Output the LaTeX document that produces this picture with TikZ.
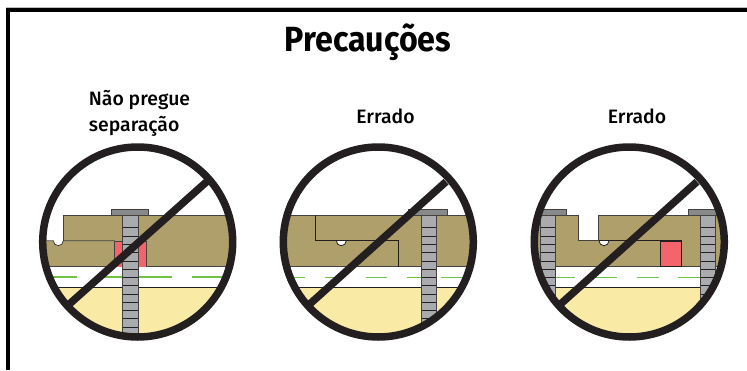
\documentclass[tikz,border=0pt]{standalone}
\usepackage{fontspec}
\setmainfont{Fira Sans}
\newfontfamily\titlefont[FakeStretch=0.92]{Fira Sans}
\newfontfamily\labelfont{Fira Sans Medium}
\definecolor{ink}{HTML}{231F20}
\definecolor{wood}{HTML}{AE9F6B}
\definecolor{sand}{HTML}{F9EBA6}
\definecolor{redblock}{HTML}{F4646B}
\definecolor{greenline}{RGB}{110,195,70}
\definecolor{nailgray}{HTML}{A9ABAE}
\tikzset{
  outl/.style={draw=ink!85,line width=0.8pt},
  thinl/.style={draw=ink,line width=0.8pt},
  membrane/.style={draw=greenline,line width=1.3pt},
  thinmembrane/.style={draw=greenline,line width=1pt},
  titletext/.style={font=\titlefont\bfseries\fontsize{35}{40}\selectfont,text=black,inner sep=0pt,anchor=center},
  labeltext/.style={font=\labelfont\fontsize{19.4}{26}\selectfont,text=black,inner sep=0pt,anchor=center,align=left},
  ban/.style={draw=ink,line width=7.5pt},
}
% nail: #1 left of shaft, #2 right of shaft, #3 head left, #4 head right
\newcommand{\nailshape}[4]{%
  \fill[nailgray] (#1,215) rectangle (#2,345);
  \foreach \yy in {227.5,236,244.5,252.5,261,269,277,285,294,302,310,318,327,335}
    \draw[ink,line width=0.7pt] (#1,\yy) -- (#2,\yy);
  \draw[ink!85,line width=0.9pt] (#1,215) -- (#1,345) (#2,215) -- (#2,345);
  \fill[nailgray!80!black,draw=ink!85,line width=0.8pt] (#3,209.5) rectangle (#4,215.5);
}
\begin{document}
\begin{tikzpicture}[x=1pt,y=-1pt]
\useasboundingbox (0,0) rectangle (747,370);
\fill[white] (0,0) rectangle (747,370);
% frame
\draw[black!25,line width=1pt] (6,7.5) -- (747,7.5);
\draw[black,line width=4pt] (8,370) -- (8,10) -- (747,10);
% texts
\node[titletext] (title) at (368,42) {Precauções};
\node[labeltext] (lab1) at (139.5,113) {Não pregue\\separação};
\node[labeltext] (lab2) at (385.5,116) {Errado};
\node[labeltext] (lab3) at (637,116) {Errado};

% ---- circle 1
\begin{scope}
\clip (137.7,242) circle (97);
\fill[wood] (63.3,215) rectangle (240,240.7);
\fill[wood] (30,240.7) rectangle (240,266.7);
\fill[white] (53.3,240.7) arc (180:0:5) -- cycle;
\draw[outl] (63.3,240.7) -- (63.3,215) -- (240,215);
\draw[outl] (30,240.7) -- (53.3,240.7) arc (180:0:5) -- (114.7,240.7);
\draw[outl] (30,266.7) -- (240,266.7);
\fill[redblock] (114.7,241) rectangle (146,266.7);
\draw[outl] (114.7,266.7) -- (114.7,241) -- (146,241) -- (146,266.7);
\fill[sand] (30,287.3) rectangle (240,345);
\draw[thinl] (30,287.3) -- (240,287.3);
\draw[membrane] (53.3,277) -- (76.7,277) (103.3,277) -- (122,277) (138,277) -- (172.3,277) (191.7,277) -- (225,277);
\nailshape{122.7}{138.3}{111.7}{148.7}
\end{scope}
\draw[ban] (137.7,242) circle (95);
\draw[ban] (68.3,305) -- (206.7,181.7);

% ---- circle 2
\begin{scope}
\clip (378.3,242) circle (97);
\fill[wood] (270,215) rectangle (490,266.7);
\draw[outl] (270,215) -- (490,215);
\draw[outl] (270,266.7) -- (490,266.7);
\fill[white] (336.3,240.7) arc (180:0:5) -- cycle;
\draw[thinl] (315.7,215) -- (315.7,240.7) -- (398.3,240.7) -- (398.3,266.7);
\draw[thinl] (336.3,240.7) arc (180:0:5);
\fill[sand] (270,287.3) rectangle (490,345);
\draw[thinl] (270,287.3) -- (490,287.3);
\draw[thinmembrane] (293.3,277) -- (305,277) (325,277) -- (336.7,277) (366,277) -- (387.3,277) (407,277) -- (428.3,277) (440.7,277) -- (463.3,277);
\nailshape{421.7}{436.7}{408}{447.7}
\end{scope}
\draw[ban] (378.3,242) circle (95);
\draw[ban] (308.7,305) -- (446,181.7);

% ---- circle 3
\begin{scope}
\clip (629.3,242) circle (97);
\fill[wood] (530,215) rectangle (730,266.7);
\fill[white] (578.7,214) rectangle (598.7,240.7);
\fill[white] (599,240.7) arc (180:0:5) -- cycle;
\draw[outl] (530,215) -- (578.7,215) -- (578.7,240.7) -- (598.7,240.7) -- (598.7,215) -- (730,215);
\draw[outl] (530,266.7) -- (730,266.7);
\draw[thinl] (598.7,240.7) -- (681.7,240.7);
\draw[thinl] (599,240.7) arc (180:0:5);
\fill[redblock] (660.7,241) rectangle (681.7,266.7);
\draw[thinl] (660.7,241) rectangle (681.7,266.7);
\fill[sand] (530,287.3) rectangle (730,345);
\draw[thinl] (530,287.3) -- (730,287.3);
\draw[thinmembrane] (555.3,277) -- (575,277) (596,277) -- (617.3,277) (637.3,277) -- (658.7,277) (678.3,277) -- (700,277);
\nailshape{540}{555.3}{541.7}{566}
\nailshape{700}{715}{688.3}{716.7}
\end{scope}
\draw[ban] (629.3,242) circle (95);
\draw[ban] (559.5,305) -- (697,181.7);
\end{tikzpicture}
\end{document}
